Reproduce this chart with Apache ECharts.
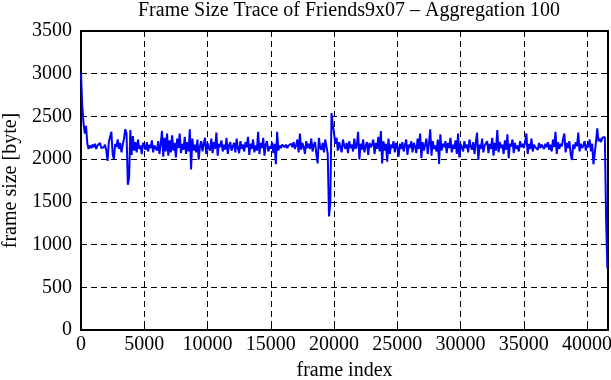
<!DOCTYPE html>
<html>
<head>
<meta charset="utf-8">
<script src="https://cdn.jsdelivr.net/npm/echarts@6/dist/echarts.min.js"></script>
<style>
html,body{margin:0;padding:0;background:#fff;}
#chart{width:611px;height:380px;}
</style>
</head>
<body>
<div id="chart"></div>
<script>
// Chart text
var titleText = "Frame Size Trace of Friends9x07 \u2013 Aggregation 100";
var xName = "frame index";
var yName = "frame size [byte]";

// Frame index step (aggregation of 100 frames)
var frameStep = 100;

// Aggregated frame sizes (bytes), one value per 100 frames
var sizes00 = [3010,2620,2420,2300,2390,2180,2120,2160,2130,2170];
var sizes01 = [2140,2180,2120,2160,2150,2190,2130,2150,2140,2170];
var sizes02 = [2100,1980,2200,2260,2320,2060,2000,2180,2140,2230];
var sizes03 = [2120,2190,2080,2170,2240,2350,2300,1700,1780,2340];
var sizes04 = [2050,2270,2100,2200,2080,2230,2120,2160,2060,2190];
var sizes05 = [2150,2110,2200,2090,2170,2130,2220,2080,2160,2140];
var sizes06 = [2100,2210,2060,2180,2330,2030,2250,2090,2300,2040];
var sizes07 = [2220,2080,2280,2100,2190,2020,2240,2130,2300,2070];
var sizes08 = [2180,2110,2260,2060,2200,2090,2350,1880,2240,2100];
var sizes09 = [2170,2080,2230,1995,2150,2210,2090,2180,2250,2060];
var sizes10 = [2190,2130,2100,2240,2070,2200,2120,2310,2040,2180];
var sizes11 = [2140,2220,2090,2170,2110,2250,2060,2160,2200,2100];
var sizes12 = [2150,2190,2080,2240,2130,2070,2210,2120,2170,2090];
var sizes13 = [2200,2140,2260,2050,2180,2120,2230,2080,2160,2100];
var sizes14 = [2320,2060,2190,2130,2250,2040,2170,2210,2090,2150];
var sizes15 = [2120,2200,2070,2180,1940,2320,2100,2160,2130,2170];
var sizes16 = [2150,2140,2170,2130,2160,2150,2180,2140,2200,2120];
var sizes17 = [2160,2230,2080,2300,2110,2190,2140,2060,2210,2130];
var sizes18 = [2180,2120,2240,2090,2170,2200,2060,1950,2250,2140];
var sizes19 = [2110,2190,2080,2230,2150,2060,1330,1480,2540,2400];
var sizes20 = [2300,2180,2250,2100,2200,2140,2080,2230,2160,2120];
var sizes21 = [2190,2070,2210,2130,2170,2090,2240,2120,2160,2320];
var sizes22 = [1995,2180,2110,2230,2080,2160,2200,2050,2190,2140];
var sizes23 = [2170,2230,2060,2190,2120,2260,2090,2330,1950,2210];
var sizes24 = [2100,2180,1970,2240,2060,2170,2130,2210,2080,2190];
var sizes25 = [2140,2030,2180,2120,2200,2090,2160,2230,2050,2170];
var sizes26 = [2130,2210,2080,2190,2150,2070,2240,2120,2300,2010];
var sizes27 = [2200,2100,2170,2240,2060,2180,2350,2040,2210,2120];
var sizes28 = [2160,2090,2230,1945,2290,2100,2180,2140,2210,2070];
var sizes29 = [2190,2130,2250,2080,2170,2120,2220,2060,2300,2020];
var sizes30 = [2180,2140,2090,2210,2130,2170,2080,2230,2150,2110];
var sizes31 = [2200,2060,2190,2310,1990,2170,2120,2240,2080,2160];
var sizes32 = [2140,2210,2070,2180,2120,2250,2040,2190,2100,2340];
var sizes33 = [2080,2200,2130,2170,2060,2220,2110,2290,2010,2180];
var sizes34 = [2150,2230,2070,2190,2120,2160,2090,2210,2140,2180];
var sizes35 = [2130,2200,2300,2060,2180,2120,2240,2090,2170,2140];
var sizes36 = [2160,2110,2190,2130,2170,2150,2120,2180,2140,2200];
var sizes37 = [2110,2170,2090,2230,2140,2320,2060,2200,2120,2180];
var sizes38 = [2150,2240,2300,2080,2190,2130,2210,2060,1990,2170];
var sizes39 = [2120,2200,2150,2310,2090,2180,2130,2160,2210,2100];
var sizes40 = [2170,2140,2230,2090,2180,1940,1960,2200,2360,2210];
var sizes41 = [2240,2200,2250,2230,2260,1300,720];

// Axis tick values
var xTicks = [0,5000,10000,15000,20000,25000,30000,35000,40000];
var yTicks = [0,500,1000,1500,2000,2500,3000,3500];

var allSizes = [].concat(sizes00,sizes01,sizes02,sizes03,sizes04,sizes05,sizes06,sizes07,sizes08,sizes09,
  sizes10,sizes11,sizes12,sizes13,sizes14,sizes15,sizes16,sizes17,sizes18,sizes19,
  sizes20,sizes21,sizes22,sizes23,sizes24,sizes25,sizes26,sizes27,sizes28,sizes29,
  sizes30,sizes31,sizes32,sizes33,sizes34,sizes35,sizes36,sizes37,sizes38,sizes39,
  sizes40,sizes41);
var seriesData = allSizes.map(function(v,i){ return [i*frameStep, v]; });

var FONT = "Liberation Serif";
var FS = 20;
var black = "#000";
var xMax = 41650;
function plain(v){ return String(v); }

var chart = echarts.init(document.getElementById('chart'), null, {renderer:'canvas'});
chart.setOption({
  animation:false,
  backgroundColor:'#fff',
  title:{
    text:titleText, left:133, top:-4,
    textStyle:{fontFamily:FONT, fontSize:FS, fontWeight:'normal', color:black}
  },
  grid:{left:81, right:3, top:31, bottom:50, containLabel:false, outerBoundsMode:'none'},
  xAxis:[{
    type:'value', min:xTicks[0], max:xMax, interval:xTicks[1]-xTicks[0],
    name:xName, nameLocation:'middle', nameGap:31,
    nameTextStyle:{fontFamily:FONT, fontSize:FS, color:black},
    axisLine:{show:true, onZero:false, lineStyle:{color:black, width:2}},
    axisTick:{show:true, inside:true, length:6, lineStyle:{color:black, width:1}},
    axisLabel:{fontFamily:FONT, fontSize:FS, color:black, margin:5, showMaxLabel:false, formatter:plain},
    splitLine:{show:true, lineStyle:{color:black, width:1, type:[6,4]}}
  },{
    type:'value', position:'top', min:xTicks[0], max:xMax, interval:xTicks[1]-xTicks[0],
    axisLine:{show:true, onZero:false, lineStyle:{color:black, width:2}},
    axisTick:{show:true, inside:true, length:6, lineStyle:{color:black, width:1}},
    axisLabel:{show:false}, splitLine:{show:false}
  }],
  yAxis:[{
    type:'value', min:yTicks[0], max:yTicks[yTicks.length-1], interval:yTicks[1]-yTicks[0],
    name:yName, nameLocation:'middle', nameGap:57, nameRotate:90,
    nameTextStyle:{fontFamily:FONT, fontSize:FS, color:black},
    axisLine:{show:true, onZero:false, lineStyle:{color:black, width:2}},
    axisTick:{show:true, inside:true, length:6, lineStyle:{color:black, width:1}},
    axisLabel:{fontFamily:FONT, fontSize:FS, color:black, margin:9, formatter:plain},
    splitLine:{show:true, lineStyle:{color:black, width:1, type:[6,4]}}
  },{
    type:'value', position:'right', min:yTicks[0], max:yTicks[yTicks.length-1], interval:yTicks[1]-yTicks[0],
    axisLine:{show:true, onZero:false, lineStyle:{color:black, width:2}},
    axisTick:{show:true, inside:true, length:6, lineStyle:{color:black, width:1}},
    axisLabel:{show:false}, splitLine:{show:false}
  }],
  series:[{
    type:'line', xAxisIndex:0, yAxisIndex:0, data:seriesData,
    showSymbol:false, symbol:'none', sampling:null,
    lineStyle:{color:'#0000ff', width:2}, z:5
  }]
});
</script>
</body>
</html>
